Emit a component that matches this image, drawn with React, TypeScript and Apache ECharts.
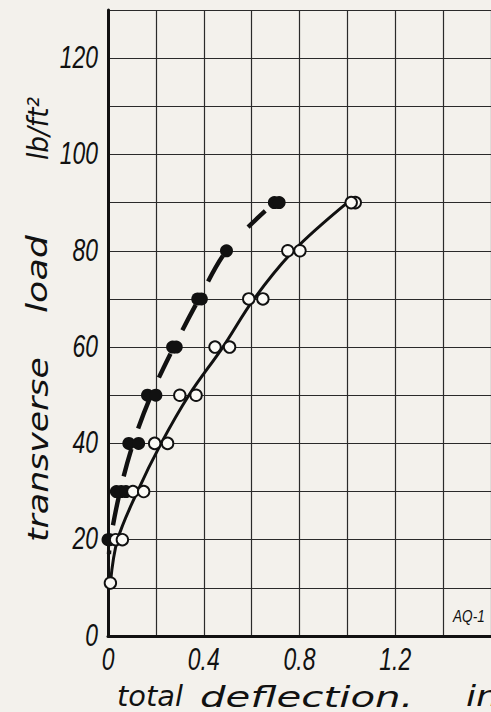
import { useEffect, useRef } from "react";
import * as echarts from "echarts";

// Axis ranges and labelled ticks
const xMax = 1.6;
const yMax = 130;
const xLabelValues = [0, 0.4, 0.8, 1.2];
const xLabelTexts = ["0", "0.4", "0.8", "1.2"];
const yLabelValues = [0, 20, 40, 60, 80, 100, 120];
const yLabelTexts = ["0", "20", "40", "60", "80", "100", "120"];

// Open-circle readings (solid curve)
const openLoads = [11, 20, 20, 30, 30, 40, 40, 50, 50, 60, 60, 70, 70, 80, 80, 90, 90];
const openDeflections = [0.01, 0.032, 0.06, 0.104, 0.149, 0.195, 0.249, 0.3, 0.368, 0.447, 0.508, 0.588, 0.647, 0.751, 0.802, 1.033, 1.016];

// Filled-dot readings (dashed curve)
const filledLoads = [20, 20, 30, 30, 30, 40, 40, 50, 50, 60, 60, 70, 70, 80, 90, 90];
const filledDeflections = [0.0, 0.008, 0.035, 0.055, 0.075, 0.087, 0.128, 0.165, 0.2, 0.27, 0.285, 0.375, 0.39, 0.495, 0.695, 0.715];

// Faired curves
const solidCurveLoads = [11, 20, 30, 40, 50, 60, 70, 80, 90];
const solidCurveDeflections = [0.01, 0.04, 0.123, 0.222, 0.338, 0.48, 0.61, 0.775, 1.0];
const dashedCurveLoads = [17, 20, 30, 40, 50, 60, 70, 80, 88.3];
const dashedCurveDeflections = [0.004, 0.01, 0.05, 0.105, 0.18, 0.275, 0.38, 0.495, 0.657];

const INK = "#111111";
const PAPER = "#f3f1ec";
const TICK_FONT = "'Liberation Sans', Arial, sans-serif";
const NAME_FONT = "'DejaVu Sans', sans-serif";

const zip = (xs: number[], ys: number[]) => xs.map((x, i) => [x, ys[i]]);

const nameText = (
  text: string,
  x: number,
  y: number,
  scaleX: number,
  rotation = 0
) => ({
  type: "text",
  x,
  y,
  rotation,
  scaleX,
  silent: true,
  style: {
    text,
    fill: INK,
    font: `italic 28px ${NAME_FONT}`,
    textAlign: "left",
    textVerticalAlign: "middle",
  },
});

const tickText = (text: string, x: number, y: number, align: string) => ({
  type: "text",
  x,
  y,
  scaleX: 0.74,
  silent: true,
  style: {
    text,
    fill: INK,
    font: `italic 31px ${TICK_FONT}`,
    textAlign: align,
    textVerticalAlign: "middle",
  },
});

export default function App() {
  const ref = useRef<HTMLDivElement>(null);

  useEffect(() => {
    if (!ref.current) return;
    const chart = echarts.init(ref.current, undefined, { renderer: "svg" });

    const axisCommon = {
      type: "value",
      min: 0,
      axisLine: { show: true, lineStyle: { color: INK, width: 3 } },
      axisTick: { show: false },
      axisLabel: { show: false },
      splitLine: { show: true, lineStyle: { color: "#2a2a2a", width: 1.2 } },
    };

    chart.setOption({
      animation: false,
      backgroundColor: PAPER,
      grid: { left: 108, right: -3, top: 10, bottom: 76, containLabel: false },
      xAxis: { ...axisCommon, max: xMax, interval: 0.2 },
      yAxis: { ...axisCommon, max: yMax, interval: 10 },
      series: [
        {
          type: "line",
          data: zip(solidCurveDeflections, solidCurveLoads),
          smooth: 0.35,
          showSymbol: false,
          silent: true,
          lineStyle: { color: INK, width: 3 },
          z: 2,
        },
        {
          type: "line",
          data: zip(dashedCurveDeflections, dashedCurveLoads),
          smooth: 0.35,
          showSymbol: false,
          silent: true,
          lineStyle: {
            color: INK,
            width: 4.4,
            type: [4, 25, 31, 19, 29, 21, 34, 21, 27, 26, 29, 26, 30, 38, 30],
          },
          z: 2,
        },
        {
          type: "scatter",
          data: zip(filledDeflections, filledLoads),
          symbol: "circle",
          symbolSize: 13,
          itemStyle: { color: INK, opacity: 1 },
          z: 3,
        },
        {
          type: "scatter",
          data: zip(openDeflections, openLoads),
          symbol: "circle",
          symbolSize: 11.5,
          itemStyle: { color: "#fbfaf6", borderColor: INK, borderWidth: 1.9, opacity: 1 },
          z: 4,
        },
      ],
    });

    // Tick numbers placed through the axes' own scales
    const toPx = (x: number, y: number) =>
      chart.convertToPixel({ gridIndex: 0 }, [x, y]) as number[];
    const axisBottom = toPx(0, 0)[1];
    const axisLeft = toPx(0, 0)[0];

    const xTicks = xLabelValues.map((v, i) =>
      tickText(xLabelTexts[i], toPx(v, 0)[0], axisBottom + 23, "center")
    );
    const yTicks = yLabelValues.map((v, i) =>
      tickText(yLabelTexts[i], axisLeft - 10, toPx(0, v)[1] - 1, "right")
    );

    chart.setOption({
      graphic: [
        ...xTicks,
        ...yTicks,
        nameText("transverse", 38, 542, 1.24, Math.PI / 2),
        nameText("load", 38, 313, 1.3, Math.PI / 2),
        nameText("lb/ft²", 38, 160, 0.94, Math.PI / 2),
        nameText("total", 117, 697, 1.03),
        nameText("deflection.", 200, 697, 1.44),
        nameText("in", 466, 697, 1.3),
        {
          type: "text",
          x: 453,
          y: 616,
          scaleX: 0.8,
          silent: true,
          style: {
            text: "AQ-1",
            fill: INK,
            font: `italic 17px ${TICK_FONT}`,
            textAlign: "left",
            textVerticalAlign: "middle",
          },
        },
      ],
    });

    return () => chart.dispose();
  }, []);

  return (
    <div
      ref={ref}
      style={{ position: "fixed", left: 0, top: 0, width: 491, height: 712 }}
    />
  );
}
